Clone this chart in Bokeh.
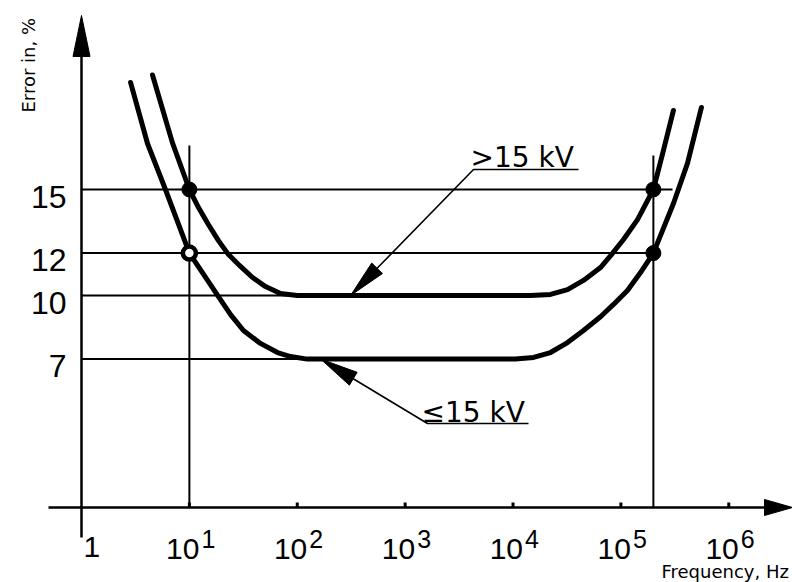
import math
from bokeh.plotting import figure
from bokeh.models import Range1d
from bokeh.core.properties import value
from bokeh.embed import file_html
from bokeh.resources import INLINE

# ---------------- data ----------------
# curve "> 15 kV"
hv_freq = [4.55, 6.97, 10, 12.15, 15.0, 18.6, 23.05, 29.8, 38.5, 50.8, 69.9,
           100, 14500, 22250, 32000, 45000, 64700, 81800, 105700, 142600,
           200000, 248000, 307000]
hv_err = [20.4, 17.2, 15, 14.15, 13.35, 12.59, 11.93, 11.37, 10.85, 10.42,
          10.09, 10, 10, 10.05, 10.28, 10.71, 11.32, 11.93, 12.64, 13.58,
          15, 16.84, 18.73]
# curve "<= 15 kV"
lv_freq = [2.85, 4.09, 6.0, 10, 18.6, 24.1, 31.7, 45.6, 65.6, 86.6, 124,
           10500, 15500, 22250, 32000, 45000, 64700, 85400, 115000, 152000,
           200000, 307000, 414000, 558000]
lv_err = [20.05, 17.17, 15, 12, 9.95, 9.1, 8.35, 7.74, 7.31, 7.12, 7.0,
          7.0, 7.08, 7.31, 7.78, 8.35, 9.0, 9.58, 10.24, 11.08,
          12, 14.34, 16.23, 18.87]

# marked points
dot_freq = [10, 200000, 200000]
dot_err = [15, 15, 12]
open_freq = [10]
open_err = [12]

# reference levels and frequencies
ref_levels = [15, 12, 10, 7]
ref_freqs = [10, 200000]

# tick labels
y_ticks = [15, 12, 10, 7]
y_tick_labels = ["15", "12", "10", "7"]
x_ticks = [10, 100, 1000, 10000, 100000, 1000000]
x_tick_base = ["10", "10", "10", "10", "10", "10"]
x_tick_exp = ["1", "2", "3", "4", "5", "6"]

label_hi = ">15 kV"
label_lo = "\u226415 kV"
x_title = "Frequency, Hz"
y_title = "Error in,  %"

# ---------------- layout helpers (canvas pixel -> data) ----------------
X0, DEC = 81.0, 107.88     # x pixel of 1 Hz, pixels per decade
Y0, UNIT = 507.0, 21.2     # y pixel of 0 %, pixels per %


def fx(px):
    return 10 ** ((px - X0) / DEC)


def fy(py):
    return (Y0 - py) / UNIT


def px_of(f):
    return X0 + DEC * math.log10(f)


def py_of(v):
    return Y0 - v * UNIT


W, H = 792, 582
p = figure(width=W, height=H, x_axis_type="log",
           x_range=Range1d(fx(0), fx(W)), y_range=Range1d(fy(H), fy(0)),
           output_backend="svg", toolbar_location=None,
           x_axis_location=None, y_axis_location=None, min_border=0,
           outline_line_color=None, background_fill_color="white")
p.grid.visible = False

INK = "black"
NUM_FONT = value("Liberation Sans")
TXT_FONT = value("DejaVu Sans")

# ---------------- axes ----------------
p.line([fx(48), fx(768)], [0, 0], line_color=INK, line_width=2.5)
p.patch([fx(792), fx(764), fx(764)], [0, fy(Y0 - 8), fy(Y0 + 8)],
        fill_color=INK, line_color=INK)
p.line([1, 1], [fy(537), fy(52)], line_color=INK, line_width=2.5)
p.patch([1, fx(X0 - 8.5), fx(X0 + 8.5)], [fy(15), fy(56), fy(56)],
        fill_color=INK, line_color=INK)
p.segment(x0=x_ticks, y0=[0] * len(x_ticks), x1=x_ticks,
          y1=[fy(Y0 - 5)] * len(x_ticks), line_color=INK, line_width=3)

# ---------------- reference lines ----------------
ref_ends = [fx(672), fx(658), 100, 124]
p.segment(x0=[1] * 4, y0=ref_levels, x1=ref_ends, y1=ref_levels,
          line_color=INK, line_width=2)
p.segment(x0=ref_freqs, y0=[0, 0], x1=ref_freqs, y1=[fy(145), fy(155)],
          line_color=INK, line_width=2)

# ---------------- curves ----------------
p.line(hv_freq, hv_err, line_color=INK, line_width=5, line_join="round",
       line_cap="round")
p.line(lv_freq, lv_err, line_color=INK, line_width=5, line_join="round",
       line_cap="round")
p.scatter(dot_freq, dot_err, size=15, fill_color=INK, line_color=INK)
p.scatter(open_freq, open_err, size=13, fill_color="white", line_color=INK,
          line_width=4.5)

# ---------------- callouts ----------------


def callout(tip_f, tip_v, elbow_px, end_px, text, text_px):
    tx, ty = px_of(tip_f), py_of(tip_v)
    ex, ey = elbow_px
    dx, dy = tx - ex, ty - ey
    L = math.hypot(dx, dy)
    ux, uy = dx / L, dy / L
    hl, hw = 38.0, 7.5
    bx, by = tx - hl * ux, ty - hl * uy
    nx, ny = -uy, ux
    p.patch([fx(tx), fx(bx + hw * nx), fx(bx - hw * nx)],
            [fy(ty), fy(by + hw * ny), fy(by - hw * ny)],
            fill_color=INK, line_color=INK)
    p.line([fx(end_px), fx(ex), fx(bx)], [fy(ey), fy(ey), fy(by)],
           line_color=INK, line_width=1.6)
    p.text(x=[fx(text_px[0])], y=[fy(text_px[1])], text=[text],
           text_font=TXT_FONT, text_font_size="28px",
           text_align="left", text_baseline="alphabetic", text_color=INK)


callout(312, 10, (473, 169), 578, label_hi, (470, 157))
callout(165, 7, (427, 423), 528, label_lo, (421, 412))

# ---------------- tick labels ----------------
p.text(x=[fx(66)] * len(y_ticks), y=[fy(py_of(v) + 7) for v in y_ticks],
       text=y_tick_labels, text_font=NUM_FONT, text_font_size="32px",
       text_align="right", text_baseline="alphabetic", text_color=INK)
p.text(x=[1], y=[fy(546)], text=["1"], x_offset=2, text_font=NUM_FONT,
       text_font_size="30px", text_align="left", text_baseline="alphabetic",
       text_color=INK)
p.text(x=x_ticks, y=[fy(548)] * len(x_ticks), text=x_tick_base, x_offset=10,
       text_font=NUM_FONT, text_font_size="30px", text_align="right",
       text_baseline="alphabetic", text_color=INK)
p.text(x=x_ticks, y=[fy(538)] * len(x_ticks), text=x_tick_exp, x_offset=12,
       text_font=NUM_FONT, text_font_size="25px", text_align="left",
       text_baseline="alphabetic", text_color=INK)

# ---------------- axis titles ----------------
p.text(x=[fx(661)], y=[fy(571)], text=[x_title], text_font=TXT_FONT,
       text_font_size="18px", text_align="left", text_baseline="alphabetic",
       text_color=INK)
p.text(x=[fx(28)], y=[fy(112)], text=[y_title], angle=math.pi / 2,
       text_font=TXT_FONT, text_font_size="18px", text_align="left",
       text_baseline="alphabetic", text_color=INK)

open("out.html", "w").write(file_html(p, INLINE))
